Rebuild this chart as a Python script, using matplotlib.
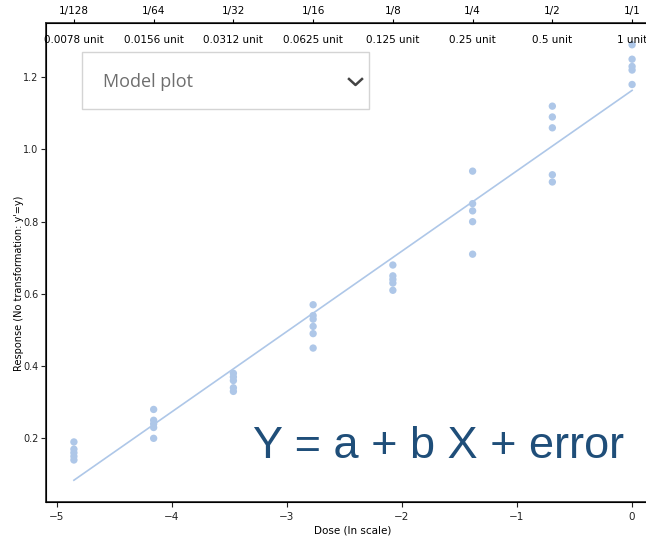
import numpy as np
import matplotlib
matplotlib.use("Agg")
import matplotlib.pyplot as plt
from matplotlib.patches import Rectangle
from matplotlib.lines import Line2D
import matplotlib.transforms as mtransforms

# dose levels (fraction of 1 unit) and their labels
dose_labels = ['1/128', '1/64', '1/32', '1/16', '1/8', '1/4', '1/2', '1/1']
dose_values = [1/128, 1/64, 1/32, 1/16, 1/8, 1/4, 1/2, 1.0]
unit_labels = ['0.0078 unit', '0.0156 unit', '0.0312 unit', '0.0625 unit',
               '0.125 unit', '0.25 unit', '0.5 unit', '1 unit']

# responses read per dose level
resp_1_128 = [0.19, 0.17, 0.16, 0.15, 0.14]
resp_1_64 = [0.28, 0.25, 0.24, 0.23, 0.20]
resp_1_32 = [0.38, 0.37, 0.36, 0.34, 0.33]
resp_1_16 = [0.57, 0.54, 0.53, 0.51, 0.49, 0.45]
resp_1_8 = [0.68, 0.65, 0.64, 0.63, 0.61]
resp_1_4 = [0.94, 0.85, 0.83, 0.80, 0.71]
resp_1_2 = [1.12, 1.09, 1.06, 0.93, 0.91]
resp_1_1 = [1.29, 1.25, 1.23, 1.22, 1.18]
responses = [resp_1_128, resp_1_64, resp_1_32, resp_1_16,
             resp_1_8, resp_1_4, resp_1_2, resp_1_1]

point_color = '#aec7e8'

ln_dose = np.log(dose_values)
x = np.concatenate([[ln_dose[i]] * len(r) for i, r in enumerate(responses)])
y = np.concatenate(responses)
b, a = np.polyfit(x, y, 1)
xfit = np.array([x.min(), x.max()])

fig = plt.figure(figsize=(6.46, 5.37), dpi=100)
ax = fig.add_axes([46/646, 35/537, 614/646, 479/537])
ax.scatter(x, y, s=28, color=point_color, edgecolors='none', zorder=3)
ax.plot(xfit, a + b * xfit, color=point_color, lw=1.2)

ax.set_xticks([-5, -4, -3, -2, -1, 0])
ax.set_yticks([0.2, 0.4, 0.6, 0.8, 1.0, 1.2])
ax.tick_params(labelsize=7.5, length=3.5, width=0.8, colors='#222222')
ax.tick_params(axis='y', labelsize=7, pad=2)
ax.set_xlabel('Dose (ln scale)', fontsize=7.5, labelpad=3)
ax.set_ylabel("Response (No transformation: y'=y)", fontsize=7)
ax.yaxis.set_label_coords(-0.036, 0.457)
for sp in ax.spines.values():
    sp.set_linewidth(1.3)
    sp.set_color('#333333')

# top axis with fraction labels
top = ax.twiny()
top.set_xlim(ax.get_xlim())
top.set_xticks(ln_dose)
top.set_xticklabels(dose_labels)
top.tick_params(labelsize=7.5, length=3, width=0.8, pad=2)

trans = mtransforms.blended_transform_factory(ax.transData, ax.transAxes)
for xv, lab in zip(ln_dose, unit_labels):
    ax.text(xv, 0.975, lab, transform=trans, ha='center', va='top', fontsize=7.5)

# "Model plot" dropdown box
fig.patches.append(Rectangle((82/646, 1 - 109/537), 287/646, 57/537,
                             transform=fig.transFigure, facecolor='white',
                             edgecolor='#d4d4d4', lw=1.0, zorder=5))
fig.text(103/646, 1 - 82/537, 'Model plot', fontsize=13, family='Open Sans',
         color='#6e6e6e', va='center', ha='left', zorder=6)
fig.lines.append(Line2D([349/646, 355.5/646, 362/646],
                        [1 - 79/537, 1 - 85/537, 1 - 79/537],
                        transform=fig.transFigure, color='#444444', lw=1.8,
                        zorder=6))

fig.text(253/646, 1 - 458/537, 'Y = a + b X + error', fontsize=32.5,
         family='Liberation Sans', color='#1f4e79', ha='left', va='baseline')

fig.savefig('out.png', dpi=100)
